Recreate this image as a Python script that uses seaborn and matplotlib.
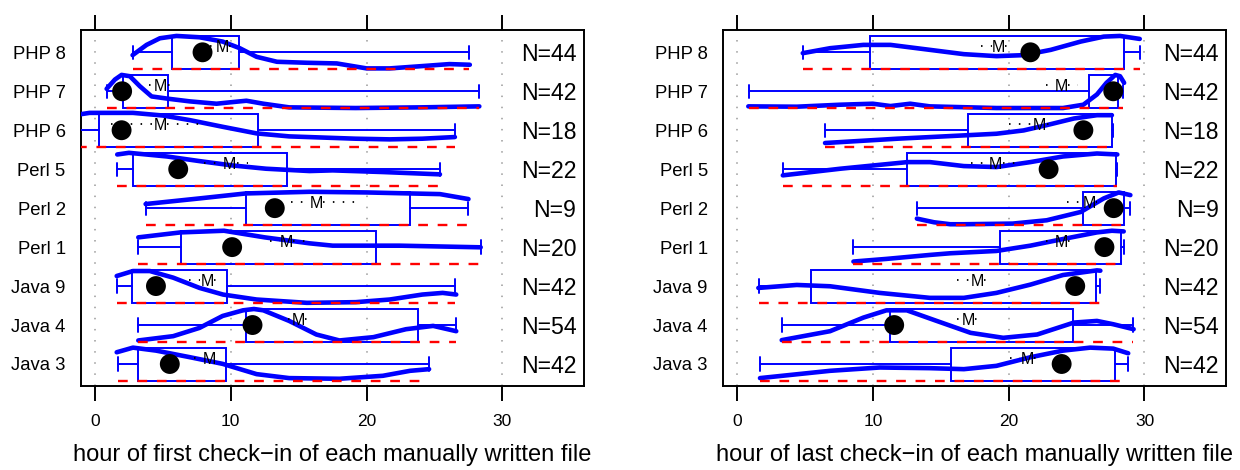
import numpy as np
import matplotlib
matplotlib.use("Agg")
import matplotlib.pyplot as plt
from matplotlib.patches import Rectangle
import seaborn as sns

# ---------------- data ----------------
categories = ["PHP 8", "PHP 7", "PHP 6", "Perl 5", "Perl 2", "Perl 1", "Java 9", "Java 4", "Java 3"]
n_counts = [44, 42, 18, 22, 9, 20, 42, 54, 42]
x_ticks = [0, 10, 20, 30]

# left panel: hour of first check-in
first_wlo = [2.77, 0.86, -1.3, 1.64, 3.73, 3.19, 1.64, 3.2, 1.71]
first_q1 = [5.66, 2.04, 0.32, 2.82, 11.1, 6.3, 2.75, 11.1, 3.14]
first_med = [7.92, 2.0, 1.96, 6.13, 13.24, 10.1, 4.49, 11.6, 5.51]
first_q3 = [10.57, 5.37, 12.03, 14.14, 23.2, 20.66, 9.73, 23.8, 9.63]
first_whi = [27.55, 28.3, 26.5, 25.4, 27.5, 28.4, 26.5, 26.6, 24.6]
first_mean = [9.4, 4.85, 4.8, 9.93, 16.3, 14.1, 8.26, 15.0, 8.46]
first_mlo = [8.5, 3.97, 1.2, 8.0, 14.4, 12.9, 6.9, 14.2, 7.3]
first_mhi = [10.4, 5.56, 7.65, 11.3, 19.2, 16.0, 9.3, 15.7, 8.9]
first_dens_x = [
    [2.77, 3.8, 4.78, 6.0, 7.7, 9.4, 10.66, 11.9, 13.4, 15.6, 17.8, 20.0, 21.7, 24.1, 26.1, 27.6],
    [0.86, 1.47, 1.96, 2.57, 3.3, 4.17, 5.4, 7.0, 8.95, 9.9, 11.15, 12.4, 14.3, 19.2, 24.0, 28.3],
    [-1.2, -0.4, 2.8, 5.0, 7.0, 9.4, 11.9, 14.3, 19.2, 21.7, 24.1, 26.5],
    [1.64, 2.5, 5.3, 7.7, 10.1, 12.6, 15.8, 17.5, 21.2, 25.4],
    [3.73, 7.7, 11.1, 15.8, 20.0, 23.2, 25.4, 27.5],
    [3.19, 6.3, 9.5, 12.5, 15.8, 17.5, 22.4, 28.4],
    [1.6, 2.8, 4.04, 5.76, 7.7, 9.43, 11.9, 15.6, 19.2, 21.7, 24.1, 25.6, 26.6],
    [3.19, 5.76, 7.7, 9.4, 10.9, 11.7, 12.4, 14.3, 16.3, 18.0, 20.5, 22.9, 24.9, 26.6],
    [1.6, 2.8, 4.5, 7.0, 9.4, 11.9, 14.3, 18.0, 21.2, 23.2, 24.6],
]
first_dens_h = [
    [0.42, 0.73, 0.93, 1.0, 0.96, 0.83, 0.63, 0.37, 0.22, 0.19, 0.17, 0.02, 0.02, 0.09, 0.15, 0.13],
    [0.58, 0.86, 1.0, 0.96, 0.66, 0.35, 0.28, 0.2, 0.13, 0.17, 0.22, 0.13, 0.02, 0.0, 0.02, 0.05],
    [0.98, 1.03, 1.03, 0.95, 0.81, 0.61, 0.41, 0.32, 0.25, 0.23, 0.25, 0.3],
    [0.95, 1.0, 0.89, 0.75, 0.62, 0.52, 0.45, 0.47, 0.42, 0.35],
    [0.63, 0.8, 0.95, 1.0, 0.98, 0.95, 0.93, 0.78],
    [0.8, 0.95, 1.0, 0.8, 0.62, 0.55, 0.55, 0.5],
    [0.81, 0.96, 0.96, 0.76, 0.45, 0.25, 0.1, 0.0, 0.02, 0.1, 0.25, 0.3, 0.25],
    [0.04, 0.17, 0.42, 0.78, 0.95, 0.99, 0.95, 0.63, 0.22, 0.04, 0.14, 0.38, 0.48, 0.32],
    [0.86, 1.0, 0.91, 0.71, 0.51, 0.2, 0.08, 0.06, 0.15, 0.3, 0.35],
]

# right panel: hour of last check-in
last_wlo = [4.84, 0.91, 6.5, 3.37, 13.24, 8.57, 1.62, 3.29, 1.69]
last_q1 = [9.8, 25.9, 16.97, 12.55, 25.47, 19.33, 5.43, 11.27, 15.75]
last_med = [21.6, 27.7, 25.5, 22.94, 27.73, 27.05, 24.9, 11.57, 23.9]
last_q3 = [28.5, 28.05, 27.6, 27.9, 28.47, 28.28, 26.4, 24.7, 27.8]
last_whi = [29.65, 28.4, 27.65, 27.95, 28.9, 28.47, 26.7, 29.16, 28.76]
last_mean = [19.26, 23.9, 22.3, 19.06, 25.96, 23.9, 17.7, 17.05, 21.35]
last_mlo = [17.95, 22.75, 20.05, 17.2, 24.3, 22.75, 16.2, 16.2, 20.1]
last_mhi = [20.4, 25.1, 23.2, 20.5, 26.5, 24.8, 18.5, 17.8, 22.0]
last_dens_x = [
    [4.84, 6.85, 9.3, 11.3, 14.2, 16.7, 19.1, 21.1, 23.1, 25.3, 27.0, 28.2, 29.65],
    [0.83, 4.4, 7.6, 10.0, 11.3, 12.75, 14.2, 19.1, 24.0, 25.5, 26.5, 27.2, 27.85, 28.2, 28.5],
    [6.48, 11.8, 16.7, 19.1, 21.1, 22.8, 24.8, 26.5, 27.6],
    [3.37, 7.6, 12.55, 14.2, 16.7, 19.1, 21.6, 24.0, 26.5, 28.0],
    [13.24, 14.5, 15.7, 16.7, 20.3, 22.8, 25.3, 27.0, 28.1, 28.96],
    [8.57, 11.0, 14.2, 15.7, 19.1, 21.6, 24.0, 26.5, 27.6, 28.47],
    [1.57, 4.4, 6.85, 10.5, 14.2, 16.7, 19.1, 21.6, 24.0, 26.5, 26.75],
    [3.29, 6.85, 9.3, 11.0, 12.5, 14.7, 17.2, 19.6, 22.1, 24.8, 26.5, 27.7, 29.2],
    [1.69, 6.85, 10.5, 14.2, 16.7, 19.1, 21.6, 24.0, 26.0, 27.7, 28.8],
]
last_dens_h = [
    [0.48, 0.63, 0.73, 0.73, 0.58, 0.45, 0.39, 0.42, 0.58, 0.83, 0.98, 1.0, 0.91],
    [0.05, 0.04, 0.1, 0.13, 0.06, 0.13, 0.05, 0.0, 0.0, 0.1, 0.41, 0.76, 1.0, 0.96, 0.76],
    [0.12, 0.25, 0.35, 0.4, 0.5, 0.66, 0.86, 0.96, 0.96],
    [0.32, 0.52, 0.72, 0.72, 0.6, 0.57, 0.72, 0.89, 0.98, 0.95],
    [0.19, 0.08, 0.02, 0.02, 0.04, 0.14, 0.39, 0.8, 0.98, 0.9],
    [0.07, 0.15, 0.27, 0.32, 0.39, 0.55, 0.75, 0.95, 1.0, 0.98],
    [0.45, 0.54, 0.5, 0.3, 0.15, 0.15, 0.3, 0.55, 0.84, 0.98, 0.97],
    [0.05, 0.32, 0.73, 0.95, 0.95, 0.63, 0.27, 0.12, 0.22, 0.58, 0.63, 0.53, 0.38],
    [0.08, 0.3, 0.4, 0.38, 0.35, 0.45, 0.71, 0.91, 1.0, 0.97, 0.83],
]

first_label = "hour of first check\u2212in of each manually written file"
last_label = "hour of last check\u2212in of each manually written file"

# ---------------- style ----------------
sns.set_theme(style="white")
plt.rcParams["font.family"] = ["Liberation Sans", "DejaVu Sans"]
plt.rcParams["lines.scale_dashes"] = False
plt.rcParams["axes.edgecolor"] = "black"
plt.rcParams["axes.labelcolor"] = "black"
plt.rcParams["text.color"] = "black"
plt.rcParams["xtick.color"] = "black"
plt.rcParams["ytick.color"] = "black"

BLUE = "#0000ff"
RED = "#ff0000"
BOX_H_UP = 0.42
BOX_H_DN = 0.43
DENS_SCALE = 0.85


def draw_panel(ax, wlo, q1, med, q3, whi, mean, mlo, mhi, dx, dh, xlabel):
    pos = list(range(len(categories)))
    for xv in x_ticks:
        ax.axvline(xv, color="#9a9a9a", lw=1.1, dashes=(1.1, 6.9), zorder=0)
    for i in pos:
        base = i + BOX_H_DN
        # box
        ax.add_patch(Rectangle((q1[i], i - BOX_H_UP), q3[i] - q1[i], BOX_H_UP + BOX_H_DN,
                               fill=False, ec=BLUE, lw=1.4, zorder=3))
        # whiskers and caps
        ax.plot([wlo[i], q1[i]], [i, i], color=BLUE, lw=1.4, zorder=3)
        ax.plot([q3[i], whi[i]], [i, i], color=BLUE, lw=1.4, zorder=3)
        ax.plot([wlo[i], wlo[i]], [i - 0.17, i + 0.17], color=BLUE, lw=1.4, zorder=3)
        ax.plot([whi[i], whi[i]], [i - 0.17, i + 0.17], color=BLUE, lw=1.4, zorder=3)
        # density curve (height relative to box height)
        ys = [base - DENS_SCALE * h for h in dh[i]]
        sns.lineplot(x=dx[i], y=ys, ax=ax, color=BLUE, lw=3.3, sort=False,
                     estimator=None, zorder=4, solid_capstyle="round", solid_joinstyle="round")
        # red dashed baseline over the range
        ax.plot([wlo[i], whi[i]], [base, base], color=RED, lw=1.7, dashes=(7, 7), zorder=5)
        # mean with dotted interval
        my = i - 0.15
        half = 0.5
        if mean[i] - half > mlo[i]:
            ax.plot([mlo[i], mean[i] - half], [my, my], color="black", lw=1.3,
                    dashes=(1.1, 6.0), zorder=5)
        if mhi[i] > mean[i] + half:
            ax.plot([mean[i] + half, mhi[i]], [my, my], color="black", lw=1.3,
                    dashes=(1.1, 6.0), zorder=5)
        ax.text(mean[i], my, "M", fontsize=11.5, ha="center", va="center_baseline", zorder=6)
        # N label
        ax.text(35.45, i, f"N={n_counts[i]}", fontsize=16.6, ha="right", va="center_baseline")
    # medians
    sns.scatterplot(x=med, y=pos, ax=ax, color="black", s=205, edgecolor="none",
                    zorder=7, legend=False)

    ax.set_xlim(-1.03, 36.0)
    ax.set_ylim(8.565, -0.585)
    ax.set_yticks(pos)
    ax.set_yticklabels(categories, fontsize=13.3)
    ax.set_xticks(x_ticks)
    ax.set_xticklabels([str(v) for v in x_ticks], fontsize=12.5)
    ax.tick_params(axis="y", length=0, pad=11)
    ax.tick_params(axis="x", which="both", bottom=True, top=True, labelbottom=True,
                   labeltop=False, direction="out", length=11, width=1.4, pad=9)
    for sp in ax.spines.values():
        sp.set_visible(True)
        sp.set_linewidth(1.4)
        sp.set_color("black")
    ax.set_xlabel(xlabel, fontsize=17, labelpad=11, color="black")
    ax.set_ylabel("")
    ax.grid(False)


fig = plt.figure(figsize=(12.4, 4.7), dpi=100)
ax1 = fig.add_axes([0.0653, 0.1787, 0.4056, 0.7585])
ax2 = fig.add_axes([0.5831, 0.1787, 0.4056, 0.7585])
draw_panel(ax1, first_wlo, first_q1, first_med, first_q3, first_whi, first_mean,
           first_mlo, first_mhi, first_dens_x, first_dens_h, first_label)
draw_panel(ax2, last_wlo, last_q1, last_med, last_q3, last_whi, last_mean,
           last_mlo, last_mhi, last_dens_x, last_dens_h, last_label)
fig.savefig("out.png", dpi=100, facecolor="white")
